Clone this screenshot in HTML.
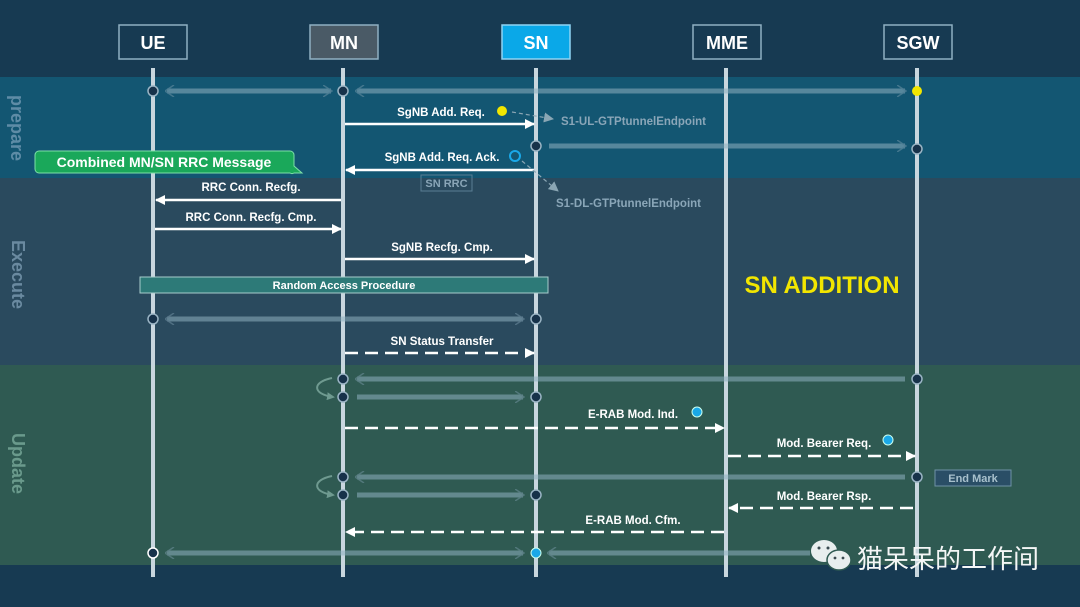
<!DOCTYPE html>
<html><head><meta charset="utf-8">
<style>
html,body{margin:0;padding:0;background:#173a52;}
svg{display:block;}
text{font-family:"Liberation Sans","Noto Sans CJK SC",sans-serif;font-weight:bold;}
text.wm{font-family:"Noto Sans CJK SC","WenQuanYi Zen Hei",sans-serif;font-weight:normal;}
</style></head>
<body>
<svg width="1080" height="607" viewBox="0 0 1080 607" xmlns="http://www.w3.org/2000/svg">
<defs>
<marker id="ah" markerWidth="10" markerHeight="10" refX="9" refY="5" orient="auto" markerUnits="userSpaceOnUse">
<path d="M0,0 L10,5 L0,10 Z" fill="#ffffff"/></marker>
<marker id="ahg" markerWidth="10" markerHeight="10" refX="9" refY="5" orient="auto" markerUnits="userSpaceOnUse">
<path d="M0,0 L10,5 L0,10 Z" fill="#8aa6b4"/></marker>
<marker id="hh" markerWidth="10" markerHeight="12" refX="8" refY="6" orient="auto" markerUnits="userSpaceOnUse">
<path d="M0,0 L9,6 L0,12" fill="none" stroke="#7f9fb0" stroke-width="1.5" opacity="0.8"/></marker>
<marker id="hhs" markerWidth="10" markerHeight="12" refX="2" refY="6" orient="auto" markerUnits="userSpaceOnUse">
<path d="M9,0 L0,6 L9,12" fill="none" stroke="#7f9fb0" stroke-width="1.5" opacity="0.8"/></marker>
<marker id="cv" markerWidth="8" markerHeight="8" refX="6" refY="4" orient="auto" markerUnits="userSpaceOnUse">
<path d="M0,0 L8,4 L0,8 Z" fill="#6f9a90"/></marker>
</defs>
<rect width="1080" height="607" fill="#173a52"/>
<rect y="77" width="1080" height="101" fill="#135672"/>
<rect y="178" width="1080" height="187" fill="#2a4a5e"/>
<rect y="365" width="1080" height="200" fill="#2f5a52"/>

<g fill="#5e8ca6" font-size="18">
<text transform="translate(11,95) rotate(90)">prepare</text>
<text transform="translate(12,240) rotate(90)" fill="#6a8aa0">Execute</text>
<text transform="translate(12,433) rotate(90)" fill="#6a9a8c">Update</text>
</g>

<g font-size="18" text-anchor="middle" fill="#fff">
<rect x="119" y="25" width="68" height="34" fill="#173a52" stroke="#8fb0c2" stroke-width="1.5"/>
<text x="153" y="49">UE</text>
<rect x="310" y="25" width="68" height="34" fill="#4a5a66" stroke="#8fb0c2" stroke-width="1.5"/>
<text x="344" y="49">MN</text>
<rect x="502" y="25" width="68" height="34" fill="#0aa8e8" stroke="#8fd4f4" stroke-width="1.5"/>
<text x="536" y="49">SN</text>
<rect x="693" y="25" width="68" height="34" fill="#173a52" stroke="#8fb0c2" stroke-width="1.5"/>
<text x="727" y="49">MME</text>
<rect x="884" y="25" width="68" height="34" fill="#173a52" stroke="#8fb0c2" stroke-width="1.5"/>
<text x="918" y="49">SGW</text>
</g>

<g stroke="#c8d6de" stroke-width="4">
<line x1="153" y1="68" x2="153" y2="577"/>
<line x1="343" y1="68" x2="343" y2="577"/>
<line x1="536" y1="68" x2="536" y2="577"/>
<line x1="726" y1="68" x2="726" y2="577"/>
<line x1="917" y1="68" x2="917" y2="577"/>
</g>

<g stroke="#8fb0c0" stroke-width="5" opacity="0.55" fill="none">
<line x1="167" y1="91" x2="331" y2="91" marker-end="url(#hh)" marker-start="url(#hhs)"/>
<line x1="357" y1="91" x2="905" y2="91" marker-end="url(#hh)" marker-start="url(#hhs)"/>
<line x1="549" y1="146" x2="905" y2="146" marker-end="url(#hh)"/>
<line x1="167" y1="319" x2="523" y2="319" marker-end="url(#hh)" marker-start="url(#hhs)"/>
<line x1="357" y1="379" x2="905" y2="379" marker-start="url(#hhs)"/>
<line x1="357" y1="397" x2="523" y2="397" marker-end="url(#hh)"/>
<line x1="357" y1="477" x2="905" y2="477" marker-start="url(#hhs)"/>
<line x1="357" y1="495" x2="523" y2="495" marker-end="url(#hh)"/>
<line x1="167" y1="553" x2="523" y2="553" marker-end="url(#hh)" marker-start="url(#hhs)"/>
<line x1="549" y1="553" x2="810" y2="553" marker-start="url(#hhs)"/>
</g>

<g fill="#17324a" stroke="#9ab4c4" stroke-width="1.5">
<circle cx="153" cy="91" r="5"/><circle cx="343" cy="91" r="5"/>
<circle cx="536" cy="146" r="5"/><circle cx="917" cy="149" r="5"/>
<circle cx="153" cy="319" r="5"/><circle cx="536" cy="319" r="5"/>
<circle cx="343" cy="379" r="5"/><circle cx="917" cy="379" r="5"/>
<circle cx="343" cy="397" r="5"/><circle cx="536" cy="397" r="5"/>
<circle cx="343" cy="477" r="5"/><circle cx="917" cy="477" r="5"/>
<circle cx="343" cy="495" r="5"/><circle cx="536" cy="495" r="5"/>
<circle cx="153" cy="553" r="5" stroke="#fff"/>
</g>
<circle cx="917" cy="91" r="5" fill="#f2e600"/>
<circle cx="536" cy="553" r="5" fill="#1aa8e8" stroke="#cfe" stroke-width="1"/>

<g fill="none" stroke="#6f9a90" stroke-width="2">
<path d="M332,378 C312,382 312,394 333,397" marker-end="url(#cv)"/>
<path d="M332,476 C312,480 312,492 333,495" marker-end="url(#cv)"/>
</g>

<g stroke="#fff" stroke-width="2.5" fill="none">
<line x1="345" y1="124" x2="534" y2="124" marker-end="url(#ah)"/>
<line x1="534" y1="170" x2="346" y2="170" marker-end="url(#ah)"/>
<line x1="341" y1="200" x2="156" y2="200" marker-end="url(#ah)"/>
<line x1="155" y1="229" x2="341" y2="229" marker-end="url(#ah)"/>
<line x1="345" y1="259" x2="534" y2="259" marker-end="url(#ah)"/>
</g>
<g stroke="#fff" stroke-width="2.5" fill="none" stroke-dasharray="13,7">
<line x1="345" y1="353" x2="534" y2="353" marker-end="url(#ah)"/>
<line x1="345" y1="428" x2="724" y2="428" marker-end="url(#ah)"/>
<line x1="728" y1="456" x2="915" y2="456" marker-end="url(#ah)"/>
<line x1="913" y1="508" x2="729" y2="508" marker-end="url(#ah)"/>
<line x1="724" y1="532" x2="346" y2="532" marker-end="url(#ah)"/>
</g>
<g stroke="#8aa6b4" stroke-width="1.2" stroke-dasharray="4,3" fill="none">
<line x1="512" y1="112" x2="553" y2="119" marker-end="url(#ahg)"/>
<line x1="522" y1="161" x2="558" y2="191" marker-end="url(#ahg)"/>
</g>

<g fill="#fff" font-size="11.5" text-anchor="middle">
<text x="441" y="116">SgNB Add. Req.</text>
<text x="442" y="161">SgNB Add. Req. Ack.</text>
<text x="251" y="191">RRC Conn. Recfg.</text>
<text x="251" y="221">RRC Conn. Recfg. Cmp.</text>
<text x="442" y="251">SgNB Recfg. Cmp.</text>
<text x="442" y="345">SN Status Transfer</text>
<text x="633" y="418">E-RAB Mod. Ind.</text>
<text x="824" y="447">Mod. Bearer Req.</text>
<text x="824" y="500">Mod. Bearer Rsp.</text>
<text x="633" y="524">E-RAB Mod. Cfm.</text>
</g>
<circle cx="502" cy="111" r="5" fill="#f2e600"/>
<circle cx="515" cy="156" r="5" fill="none" stroke="#1aa8e8" stroke-width="2"/>
<circle cx="697" cy="412" r="5" fill="#1aa8e8" stroke="#cfe" stroke-width="1"/>
<circle cx="888" cy="440" r="5" fill="#1aa8e8" stroke="#cfe" stroke-width="1"/>

<g fill="#8aa6b8" font-size="11.5">
<text x="561" y="125">S1-UL-GTPtunnelEndpoint</text>
<text x="556" y="207">S1-DL-GTPtunnelEndpoint</text>
</g>
<rect x="421" y="175" width="51" height="16" fill="none" stroke="#5a7e94" stroke-width="1"/>
<text x="446.5" y="187" fill="#8aa6b8" font-size="11" text-anchor="middle">SN RRC</text>

<path d="M39,151 H290 a4,4 0 0 1 4,4 V166 L302,173 H294 a4,4 0 0 1 -4,0 H39 a4,4 0 0 1 -4,-4 V155 a4,4 0 0 1 4,-4 Z" fill="#1aa85a" stroke="#7ee0a8" stroke-width="1"/>
<text x="164" y="167" fill="#fff" font-size="14" text-anchor="middle">Combined MN/SN RRC Message</text>

<rect x="140" y="277" width="408" height="16" fill="#2d7a78" stroke="#a8cccc" stroke-width="1"/>
<text x="344" y="289" fill="#fff" font-size="11" text-anchor="middle">Random Access Procedure</text>

<text x="822" y="293" fill="#f2e600" font-size="24" text-anchor="middle">SN ADDITION</text>

<rect x="935" y="470" width="76" height="16" fill="#2a4e66" stroke="#6f92a6" stroke-width="1"/>
<text x="973" y="482" fill="#a8c0cc" font-size="11" font-weight="normal" text-anchor="middle">End Mark</text>

<g fill="#e8eeee">
<ellipse cx="824" cy="551" rx="13" ry="11"/>
<ellipse cx="839" cy="560" rx="12" ry="10" stroke="#2f5a52" stroke-width="1.5"/>
</g>
<g fill="#3a4a50"><circle cx="819" cy="548" r="1.5"/><circle cx="828" cy="548" r="1.5"/><circle cx="835" cy="558" r="1.4"/><circle cx="843" cy="558" r="1.4"/></g>
<text class="wm" x="857" y="568" fill="#f4f6f6" font-size="26">猫呆呆的工作间</text>
</svg>
</body></html>
